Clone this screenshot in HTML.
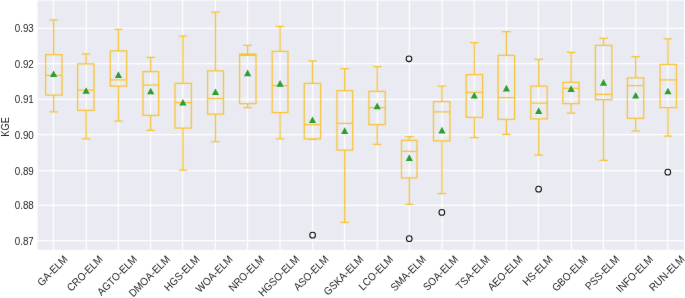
<!DOCTYPE html><html><head><meta charset="utf-8"><style>html,body{margin:0;padding:0;background:#fff;width:685px;height:298px;overflow:hidden}svg{display:block;will-change:transform}text{font-family:"Liberation Sans",sans-serif;fill:#262626}</style></head><body>
<svg width="685" height="298" viewBox="0 0 685 298">
<defs><filter id="b" x="0" y="0" width="685" height="298" filterUnits="userSpaceOnUse" color-interpolation-filters="sRGB"><feConvolveMatrix order="3" kernelMatrix="0.01134 0.08382 0.01134 0.08382 0.61935 0.08382 0.01134 0.08382 0.01134" edgeMode="duplicate" preserveAlpha="true"/></filter></defs><g filter="url(#b)"><rect width="685" height="298" fill="#fff"/>
<rect x="37.6" y="0.6" width="646.40" height="249.20" fill="#EAEAF2"/>
<path d="M37.6 28.47H684.0M37.6 63.53H684.0M37.6 99.32H684.0M37.6 134.53H684.0M37.6 170.53H684.0M37.6 205.47H684.0M37.6 240.68H684.0M53.38 0.6V249.8M86.38 0.6V249.8M118.38 0.6V249.8M150.57 0.6V249.8M182.66 0.6V249.8M215.42 0.6V249.8M247.47 0.6V249.8M280.05 0.6V249.8M312.57 0.6V249.8M344.52 0.6V249.8M377.32 0.6V249.8M409.37 0.6V249.8M442.12 0.6V249.8M474.10 0.6V249.8M506.47 0.6V249.8M538.42 0.6V249.8M571.32 0.6V249.8M603.42 0.6V249.8M635.76 0.6V249.8M667.66 0.6V249.8" stroke="#fff" stroke-width="1.2" fill="none"/>
<path d="M45.61 54.6H62.04V95.0H45.61ZM45.61 75.3H62.04M53.60 54.6V19.9M49.30 19.9H57.90M53.60 95.0V111.8M49.30 111.8H57.90M77.61 63.75H94.04V110.3H77.61ZM77.61 90.0H94.04M86.10 63.75V53.9M81.80 53.9H90.40M86.10 110.3V138.9M81.80 138.9H90.40M110.27 50.9H126.67V86.2H110.27ZM110.27 79.8H126.67M118.42 50.9V29.3M114.12 29.3H122.72M118.42 86.2V121.2M114.12 121.2H122.72M142.98 71.6H158.67V115.3H142.98ZM142.98 85.0H158.67M150.70 71.6V57.3M146.40 57.3H155.00M150.70 115.3V130.4M146.40 130.4H155.00M174.98 83.4H191.44V128.2H174.98ZM174.98 102.5H191.44M182.94 83.4V36.2M178.63 36.2H187.24M182.94 128.2V170.1M178.63 170.1H187.24M207.55 70.8H223.50V114.1H207.55ZM207.55 98.5H223.50M215.47 70.8V12.1M211.17 12.1H219.77M215.47 114.1V141.5M211.17 141.5H219.77M239.55 54.0H256.02V103.5H239.55ZM239.55 55.3H256.02M247.63 54.0V45.3M243.33 45.3H251.93M247.63 103.5V107.5M243.33 107.5H251.93M272.20 51.3H287.97V112.5H272.20ZM272.20 85.5H287.97M280.07 51.3V26.3M275.77 26.3H284.37M280.07 112.5V138.9M275.77 138.9H284.37M304.27 83.4H320.60V138.9H304.27ZM304.27 124.5H320.60M312.50 83.4V60.8M308.20 60.8H316.80M312.50 138.9V139.4M308.20 139.4H316.80M336.98 90.7H352.67V150.2H336.98ZM336.98 123.4H352.67M344.67 90.7V68.7M340.37 68.7H348.97M344.67 150.2V222.3M340.37 222.3H348.97M368.92 91.4H385.25V124.5H368.92ZM368.92 107.5H385.25M377.20 91.4V66.5M372.90 66.5H381.50M377.20 124.5V144.3M372.90 144.3H381.50M401.48 140.3H417.04V177.9H401.48ZM401.48 151.4H417.04M409.31 140.3V136.5M405.01 136.5H413.62M409.31 177.9V204.4M405.01 204.4H413.62M433.50 101.6H449.97V140.8H433.50ZM433.50 111.8H449.97M441.93 101.6V86.2M437.63 86.2H446.23M441.93 140.8V193.5M437.63 193.5H446.23M466.20 74.6H482.60V117.4H466.20ZM466.20 92.4H482.60M474.25 74.6V42.6M469.95 42.6H478.55M474.25 117.4V137.5M469.95 137.5H478.55M498.13 55.3H514.60V119.4H498.13ZM498.13 97.6H514.60M506.42 55.3V31.7M502.12 31.7H510.72M506.42 119.4V134.4M502.12 134.4H510.72M530.84 86.2H547.20V118.9H530.84ZM530.84 103.2H547.20M538.72 86.2V59.4M534.42 59.4H543.02M538.72 118.9V155.2M534.42 155.2H543.02M562.85 82.4H579.04V103.5H562.85ZM562.85 88.3H579.04M571.13 82.4V52.3M566.83 52.3H575.43M571.13 103.5V113.2M566.83 113.2H575.43M595.38 45.4H611.85V99.7H595.38ZM595.38 94.3H611.85M603.52 45.4V38.4M599.22 38.4H607.82M603.52 99.7V160.3M599.22 160.3H607.82M627.38 77.9H643.74V118.4H627.38ZM627.38 85.5H643.74M635.66 77.9V56.5M631.36 56.5H639.96M635.66 118.4V131.1M631.36 131.1H639.96M660.08 64.4H676.44V107.5H660.08ZM660.08 79.8H676.44M667.96 64.4V38.8M663.66 38.8H672.26M667.96 107.5V136.0M663.66 136.0H672.26" stroke="#F7C22E" stroke-width="1.25" fill="none" stroke-linecap="butt" stroke-linejoin="miter"/>
</g>
<defs><filter id="tb" x="0" y="0" width="685" height="298" filterUnits="userSpaceOnUse" color-interpolation-filters="sRGB"><feConvolveMatrix order="3" kernelMatrix="0.00163 0.03713 0.00163 0.03713 0.84497 0.03713 0.00163 0.03713 0.00163" edgeMode="duplicate"/></filter></defs><g filter="url(#tb)">
<path d="M53.60 70.50L57.20 77.10L50.00 77.10ZM86.10 87.20L89.70 93.80L82.50 93.80ZM118.42 71.30L122.02 77.90L114.83 77.90ZM150.70 87.70L154.30 94.30L147.10 94.30ZM182.94 99.00L186.53 105.60L179.34 105.60ZM215.47 88.40L219.07 95.00L211.87 95.00ZM247.63 69.60L251.23 76.20L244.03 76.20ZM280.07 80.10L283.67 86.70L276.47 86.70ZM312.50 116.50L316.10 123.10L308.90 123.10ZM344.67 127.30L348.27 133.90L341.07 133.90ZM377.20 102.60L380.80 109.20L373.60 109.20ZM409.31 154.30L412.92 160.90L405.71 160.90ZM441.93 126.80L445.53 133.40L438.33 133.40ZM474.25 91.90L477.85 98.50L470.65 98.50ZM506.42 84.80L510.02 91.40L502.82 91.40ZM538.72 107.30L542.32 113.90L535.12 113.90ZM571.13 85.30L574.73 91.90L567.53 91.90ZM603.52 79.10L607.12 85.70L599.92 85.70ZM635.66 91.90L639.26 98.50L632.06 98.50ZM667.96 87.70L671.56 94.30L664.36 94.30Z" fill="#2CA02C"/>
<text transform="translate(33.8 32.47) scale(0.86 1)" font-size="11.4" text-anchor="end">0.93</text>
<text transform="translate(33.8 67.53) scale(0.86 1)" font-size="11.4" text-anchor="end">0.92</text>
<text transform="translate(33.8 103.32) scale(0.86 1)" font-size="11.4" text-anchor="end">0.91</text>
<text transform="translate(33.8 138.53) scale(0.86 1)" font-size="11.4" text-anchor="end">0.90</text>
<text transform="translate(33.8 174.53) scale(0.86 1)" font-size="11.4" text-anchor="end">0.89</text>
<text transform="translate(33.8 209.47) scale(0.86 1)" font-size="11.4" text-anchor="end">0.88</text>
<text transform="translate(33.8 244.68) scale(0.86 1)" font-size="11.4" text-anchor="end">0.87</text>
<text transform="translate(8.6 126.95) rotate(-90) scale(0.86 1)" font-size="10.8" text-anchor="middle">KGE</text>
<text transform="translate(68.36 260.00) rotate(-45) scale(0.92 1)" font-size="10.7" text-anchor="end">GA-ELM</text>
<text transform="translate(103.40 260.00) rotate(-45) scale(0.92 1)" font-size="10.7" text-anchor="end">CRO-ELM</text>
<text transform="translate(137.79 260.00) rotate(-45) scale(0.92 1)" font-size="10.7" text-anchor="end">AGTO-ELM</text>
<text transform="translate(170.77 260.00) rotate(-45) scale(0.92 1)" font-size="10.7" text-anchor="end">DMOA-ELM</text>
<text transform="translate(200.21 260.00) rotate(-45) scale(0.92 1)" font-size="10.7" text-anchor="end">HGS-ELM</text>
<text transform="translate(233.32 260.00) rotate(-45) scale(0.92 1)" font-size="10.7" text-anchor="end">WOA-ELM</text>
<text transform="translate(265.08 260.00) rotate(-45) scale(0.92 1)" font-size="10.7" text-anchor="end">NRO-ELM</text>
<text transform="translate(299.93 260.00) rotate(-45) scale(0.92 1)" font-size="10.7" text-anchor="end">HGSO-ELM</text>
<text transform="translate(329.37 260.00) rotate(-45) scale(0.92 1)" font-size="10.7" text-anchor="end">ASO-ELM</text>
<text transform="translate(364.02 260.00) rotate(-45) scale(0.92 1)" font-size="10.7" text-anchor="end">GSKA-ELM</text>
<text transform="translate(393.85 260.00) rotate(-45) scale(0.92 1)" font-size="10.7" text-anchor="end">LCO-ELM</text>
<text transform="translate(426.57 260.00) rotate(-45) scale(0.92 1)" font-size="10.7" text-anchor="end">SMA-ELM</text>
<text transform="translate(458.72 260.00) rotate(-45) scale(0.92 1)" font-size="10.7" text-anchor="end">SOA-ELM</text>
<text transform="translate(490.47 260.00) rotate(-45) scale(0.92 1)" font-size="10.7" text-anchor="end">TSA-ELM</text>
<text transform="translate(523.39 260.00) rotate(-45) scale(0.92 1)" font-size="10.7" text-anchor="end">AEO-ELM</text>
<text transform="translate(553.22 260.00) rotate(-45) scale(0.92 1)" font-size="10.7" text-anchor="end">HS-ELM</text>
<text transform="translate(588.45 260.00) rotate(-45) scale(0.92 1)" font-size="10.7" text-anchor="end">GBO-ELM</text>
<text transform="translate(620.02 260.00) rotate(-45) scale(0.92 1)" font-size="10.7" text-anchor="end">PSS-ELM</text>
<text transform="translate(653.70 260.00) rotate(-45) scale(0.92 1)" font-size="10.7" text-anchor="end">INFO-ELM</text>
<text transform="translate(685.27 260.00) rotate(-45) scale(0.92 1)" font-size="10.7" text-anchor="end">RUN-ELM</text>
<g fill="none" stroke="#111" stroke-width="1.05"><circle cx="312.6" cy="235.15" r="2.85"/><circle cx="409.0" cy="58.75" r="2.85"/><circle cx="409.25" cy="238.7" r="2.85"/><circle cx="441.85" cy="212.4" r="2.85"/><circle cx="538.6" cy="189.2" r="2.85"/><circle cx="667.8" cy="172.2" r="2.85"/></g>
</g></svg></body></html>
